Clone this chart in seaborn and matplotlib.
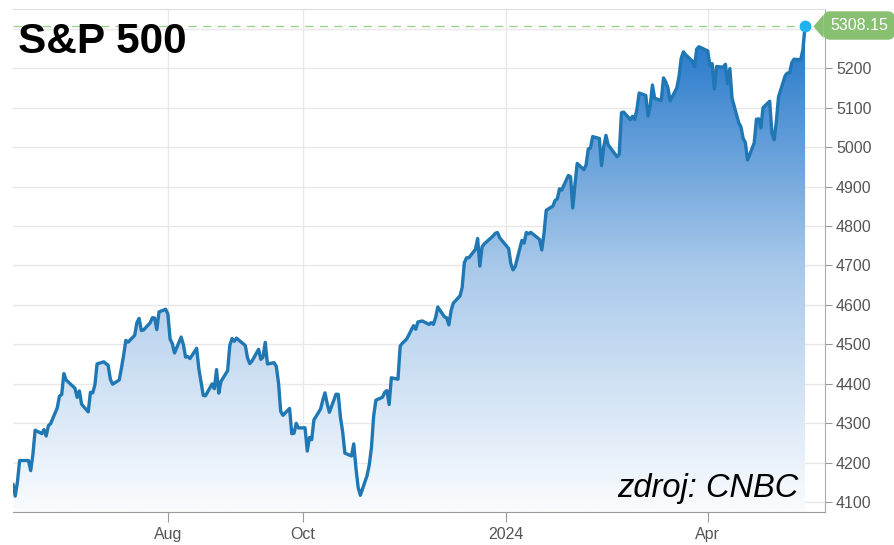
import numpy as np
import pandas as pd
import seaborn as sns
import matplotlib.pyplot as plt
import matplotlib.dates as mdates
from matplotlib.colors import LinearSegmentedColormap
from matplotlib.patches import Polygon
from matplotlib.transforms import offset_copy

# trading calendar of the chart (NYSE days)
start_date = "2023-05-23"
end_date = "2024-05-15"
market_holidays = ["2023-05-29", "2023-06-19", "2023-07-04", "2023-09-04",
                   "2023-11-23", "2023-12-25", "2024-01-01", "2024-01-15",
                   "2024-02-19", "2024-03-29"]

# daily closes, month by month
close_may23 = [4145.58, 4115.24, 4151.28, 4205.45, 4205.52, 4179.83]
close_jun23 = [4221.02, 4282.37, 4273.79, 4283.85, 4267.52, 4293.93, 4298.86,
               4338.93, 4369.01, 4372.59, 4425.84, 4409.59, 4388.71, 4365.69,
               4381.89, 4348.33, 4328.82, 4378.41, 4376.86, 4396.44, 4450.38]
close_jul23 = [4455.59, 4446.82, 4411.59, 4398.95, 4409.53, 4439.26, 4472.16,
               4510.04, 4505.42, 4522.79, 4554.98, 4565.72, 4534.87, 4536.34,
               4554.64, 4567.46, 4566.75, 4537.41, 4582.23, 4588.96]
close_aug23 = [4576.73, 4513.39, 4501.89, 4478.03, 4518.44, 4499.38, 4467.71,
               4468.83, 4464.05, 4489.72, 4437.86, 4404.33, 4370.36, 4369.71,
               4399.77, 4387.55, 4436.01, 4376.31, 4405.71, 4433.31, 4497.63,
               4514.87, 4507.66]
close_sep23 = [4515.77, 4496.83, 4465.48, 4451.14, 4457.49, 4487.46, 4461.90,
               4467.44, 4505.10, 4450.32, 4453.53, 4443.95, 4402.20, 4330.00,
               4320.06, 4337.44, 4273.53, 4274.51, 4299.70, 4288.05]
close_oct23 = [4288.39, 4229.45, 4263.75, 4258.19, 4308.50, 4335.66, 4358.24,
               4376.95, 4349.61, 4327.78, 4373.63, 4373.20, 4314.60, 4278.00,
               4224.16, 4217.04, 4247.68, 4186.77, 4137.23, 4117.37, 4166.82,
               4193.80]
close_nov23 = [4237.86, 4317.78, 4358.34, 4365.98, 4378.38, 4382.78, 4347.35,
               4415.24, 4411.55, 4495.70, 4502.88, 4508.24, 4514.02, 4547.38,
               4538.19, 4556.62, 4559.34, 4550.43, 4554.89, 4550.58, 4567.80]
close_dec23 = [4594.63, 4569.78, 4567.18, 4549.34, 4585.59, 4604.37, 4622.44,
               4643.70, 4707.09, 4719.55, 4719.19, 4740.56, 4768.37, 4698.35,
               4746.75, 4754.63, 4774.75, 4781.58, 4783.35, 4769.83]
close_jan24 = [4742.83, 4704.81, 4688.68, 4697.24, 4763.54, 4756.50, 4783.45,
               4780.24, 4783.83, 4765.98, 4739.21, 4780.94, 4839.81, 4850.43,
               4864.60, 4868.55, 4894.16, 4890.97, 4927.93, 4924.97, 4845.65]
close_feb24 = [4906.19, 4958.61, 4942.81, 4954.23, 4995.06, 4997.91, 5026.61,
               5021.84, 4953.17, 5000.62, 5029.73, 5005.57, 4975.51, 4981.80,
               5087.03, 5088.80, 5069.53, 5078.18, 5069.76, 5096.27]
close_mar24 = [5137.08, 5130.95, 5078.65, 5104.76, 5157.36, 5123.69, 5117.94,
               5175.27, 5165.31, 5150.48, 5117.09, 5149.42, 5178.51, 5224.62,
               5241.53, 5234.18, 5218.19, 5203.58, 5248.49, 5254.35]
close_apr24 = [5243.77, 5205.81, 5211.49, 5147.21, 5204.34, 5202.39, 5209.91,
               5160.64, 5199.06, 5123.41, 5061.82, 5051.41, 5022.21, 5011.12,
               4967.23, 5010.60, 5070.55, 5071.63, 5048.42, 5099.96, 5116.17,
               5035.69]
close_may24 = [5018.39, 5064.20, 5127.79, 5180.74, 5187.70, 5187.67, 5214.08,
               5222.68, 5221.42, 5246.68, 5308.15]

tick_dates = ["2023-08-01", "2023-10-01", "2024-01-01", "2024-04-01"]
tick_labels = ["Aug", "Oct", "2024", "Apr"]
y_ticks = list(range(4100, 5301, 100))

closes = (close_may23 + close_jun23 + close_jul23 + close_aug23 + close_sep23
          + close_oct23 + close_nov23 + close_dec23 + close_jan24 + close_feb24
          + close_mar24 + close_apr24 + close_may24)
dates = pd.bdate_range(start_date, end_date, freq="C", holidays=market_holidays)
df = pd.DataFrame({"date": dates, "close": closes})

sns.set_style("white")
plt.rcParams["font.family"] = ["Liberation Sans", "DejaVu Sans"]

fig = plt.figure(figsize=(8.95, 5.45), dpi=100)
ax = fig.add_axes([13 / 895, 33 / 545, 812 / 895, 503 / 545])

y_lo, y_hi = 4075, 5350
line_color = "#1f77b4"

sns.lineplot(data=df, x="date", y="close", ax=ax, color=line_color,
             linewidth=2.4, zorder=4)

# gradient area under the line
xnum = mdates.date2num(df["date"])
cmap = LinearSegmentedColormap.from_list(
    "spx", [(0, "#fafcfe"), (0.5, "#a9c9ea"), (1, "#1f74c9")])
grad = np.linspace(0, 1, 256).reshape(-1, 1)
im = ax.imshow(grad, extent=[xnum[0], xnum[-1], y_lo, 5310], origin="lower",
               aspect="auto", cmap=cmap, zorder=2)
verts = [(xnum[0], y_lo)] + list(zip(xnum, df["close"])) + [(xnum[-1], y_lo)]
area = Polygon(verts, closed=True, transform=ax.transData,
               facecolor="none", edgecolor="none")
ax.add_patch(area)
im.set_clip_path(area)

last = df["close"].iloc[-1]
ax.axhline(last, color="#9fd18f", lw=1, ls=(0, (6, 4.5)), zorder=3)
ax.plot(xnum[-1], last, "o", color="#1db3f0", markersize=7.5, zorder=5,
        clip_on=False)

ax.set_xlim(xnum[0], mdates.date2num(pd.Timestamp("2024-05-24")))
ax.set_ylim(y_lo, y_hi)

ax.set_xticks(mdates.date2num(pd.to_datetime(tick_dates)))
ax.set_xticklabels(tick_labels)
ax.yaxis.tick_right()
ax.set_yticks(y_ticks)
ax.set_yticklabels([str(v) if v < 5300 else "" for v in y_ticks])
ax.set_xlabel("")
ax.set_ylabel("")

ax.grid(True, color="#e8e8e8", lw=1)
ax.set_axisbelow(True)
ax.tick_params(axis="x", direction="out", length=7, color="#999999",
               labelcolor="#555555", labelsize=11.5, pad=4, bottom=True)
ax.tick_params(axis="y", direction="out", length=5, color="#999999",
               labelcolor="#555555", labelsize=11.5, pad=3, right=True)
ax.spines["left"].set_visible(False)
ax.spines["top"].set_color("#dddddd")
ax.spines["bottom"].set_color("#9a9a9a")
ax.spines["right"].set_color("#aaaaaa")

# last value label
label_green = "#88c072"
ax.annotate(f"{last:.2f}", xy=(1, last), xycoords=("axes fraction", "data"),
            xytext=(5, 0), textcoords="offset pixels", ha="left", va="center",
            fontsize=11.5, color="white", zorder=6, annotation_clip=False,
            bbox=dict(boxstyle="round,pad=0.42", fc=label_green, ec="none"))
tri = offset_copy(ax.get_yaxis_transform(), fig=fig, x=-2, y=0, units="dots")
ax.plot([1], [last], transform=tri, marker=[(-0.85, 0), (0, 1), (0, -1)],
        markersize=17, color=label_green, markeredgewidth=0, clip_on=False,
        zorder=6)

fig.text(18 / 895, 1 - 53 / 545, "S&P 500", fontsize=30.5, fontweight="bold",
         ha="left", va="baseline", color="black")
fig.text(798 / 895, 1 - 497 / 545, "zdroj: CNBC", fontsize=23.5, style="italic",
         ha="right", va="baseline", color="black")

fig.savefig("out.png", dpi=100)
